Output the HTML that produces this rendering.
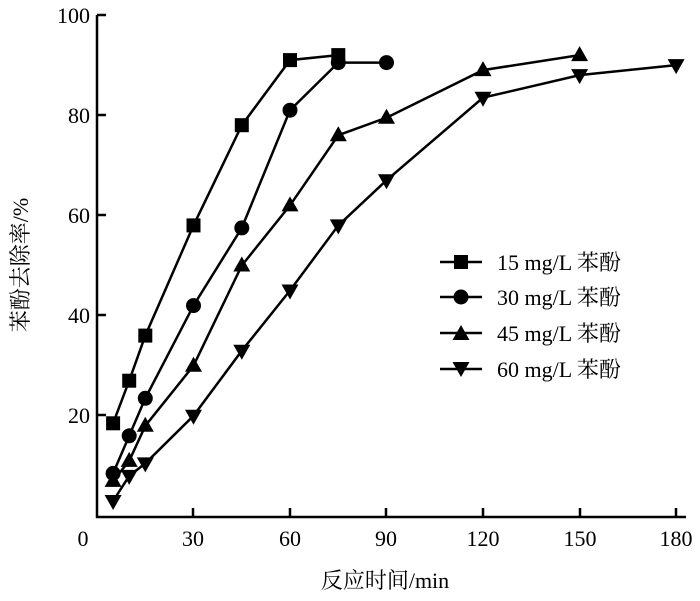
<html><body style="margin:0;background:#fff">
<svg width="700" height="601" xmlns="http://www.w3.org/2000/svg" font-family="Liberation Serif, Noto Serif CJK SC, serif">
<defs>
<rect id="sq" x="-7" y="-7" width="14" height="14" fill="#000"/>
<circle id="ci" r="7.5" fill="#000"/>
<path id="tu" d="M0,-9 L8.5,6 L-8.5,6Z" fill="#000"/>
<path id="td" d="M0,9 L8.5,-6 L-8.5,-6Z" fill="#000"/>
</defs>
<g stroke="#000" stroke-width="2.5" fill="none">
<path d="M97,15 V517 H686"/>
<path d="M193,517v-9M290,517v-9M386,517v-9M483,517v-9M580,517v-9M676,517v-9M97,415h9M97,315h9M97,215h9M97,115h9M97,15h9"/>
<polyline points="113.1,423.3 129.2,380.7 145.3,335.6 193.5,225.4 241.8,125.2 290,60.1 338.3,55.1"/>
<polyline points="113.1,473.4 129.2,435.8 145.3,398.3 193.5,305.6 241.8,227.9 290,110.2 338.3,62.6 386.5,62.6"/>
<polyline points="113.1,480.9 129.2,460.9 145.3,425.8 193.5,365.7 241.8,265.5 290,205.4 338.3,135.2 386.5,117.7 483,70.1 579.6,55.1"/>
<polyline points="113.1,501 129.2,475.9 145.3,463.4 193.5,415.8 241.8,350.7 290,290.5 338.3,225.4 386.5,180.3 483,97.7 579.6,75.1 676.1,65.1"/>
</g>
<use href="#sq" x="113.1" y="423.3"/><use href="#sq" x="129.2" y="380.7"/><use href="#sq" x="145.3" y="335.6"/><use href="#sq" x="193.5" y="225.4"/><use href="#sq" x="241.8" y="125.2"/><use href="#sq" x="290" y="60.1"/><use href="#sq" x="338.3" y="55.1"/>
<use href="#ci" x="113.1" y="473.4"/><use href="#ci" x="129.2" y="435.8"/><use href="#ci" x="145.3" y="398.3"/><use href="#ci" x="193.5" y="305.6"/><use href="#ci" x="241.8" y="227.9"/><use href="#ci" x="290" y="110.2"/><use href="#ci" x="338.3" y="62.6"/><use href="#ci" x="386.5" y="62.6"/>
<use href="#tu" x="113.1" y="480.9"/><use href="#tu" x="129.2" y="460.9"/><use href="#tu" x="145.3" y="425.8"/><use href="#tu" x="193.5" y="365.7"/><use href="#tu" x="241.8" y="265.5"/><use href="#tu" x="290" y="205.4"/><use href="#tu" x="338.3" y="135.2"/><use href="#tu" x="386.5" y="117.7"/><use href="#tu" x="483" y="70.1"/><use href="#tu" x="579.6" y="55.1"/>
<use href="#td" x="113.1" y="501"/><use href="#td" x="129.2" y="475.9"/><use href="#td" x="145.3" y="463.4"/><use href="#td" x="193.5" y="415.8"/><use href="#td" x="241.8" y="350.7"/><use href="#td" x="290" y="290.5"/><use href="#td" x="338.3" y="225.4"/><use href="#td" x="386.5" y="180.3"/><use href="#td" x="483" y="97.7"/><use href="#td" x="579.6" y="75.1"/><use href="#td" x="676.1" y="65.1"/>
<g font-size="22" text-anchor="middle">
<text x="83" y="546">0</text><text x="193" y="546">30</text><text x="290" y="546">60</text><text x="386" y="546">90</text><text x="483" y="546">120</text><text x="580" y="546">150</text><text x="676" y="546">180</text>
</g>
<g font-size="22" text-anchor="end">
<text x="90" y="423">20</text><text x="90" y="323">40</text><text x="90" y="223">60</text><text x="90" y="123">80</text><text x="90" y="23">100</text>
</g>
<text x="385" y="588" font-size="22" text-anchor="middle">反应时间/min</text>
<text transform="translate(28,265) rotate(-90)" font-size="22" text-anchor="middle">苯酚去除率/%</text>
<g font-size="22">
<line x1="440" y1="262" x2="482" y2="262" stroke="#000" stroke-width="2.5"/><use href="#sq" x="461" y="262"/><text x="497" y="270">15 mg/L 苯酚</text>
<line x1="440" y1="297" x2="482" y2="297" stroke="#000" stroke-width="2.5"/><use href="#ci" x="461" y="297"/><text x="497" y="305">30 mg/L 苯酚</text>
<line x1="440" y1="333" x2="482" y2="333" stroke="#000" stroke-width="2.5"/><use href="#tu" x="461" y="334"/><text x="497" y="341">45 mg/L 苯酚</text>
<line x1="440" y1="369" x2="482" y2="369" stroke="#000" stroke-width="2.5"/><use href="#td" x="461" y="368"/><text x="497" y="377">60 mg/L 苯酚</text>
</g>
</svg>
</body></html>
